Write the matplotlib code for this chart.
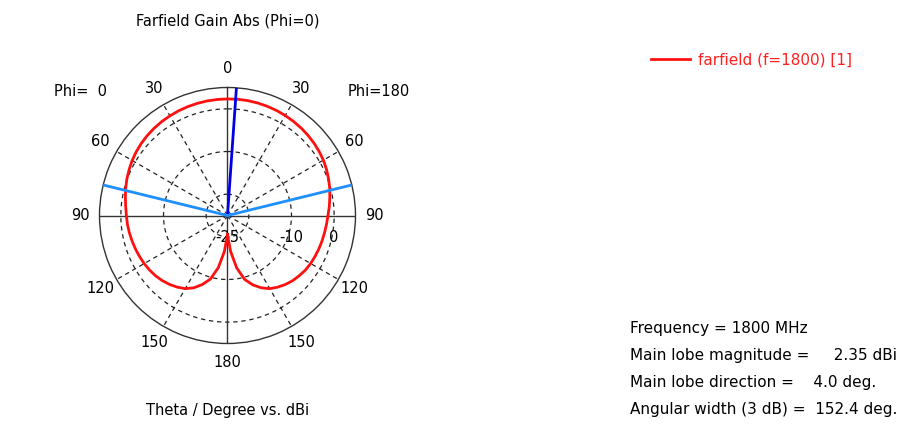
import matplotlib.pyplot as plt
import numpy as np

# farfield cut, theta in degrees (negative = Phi 0 side, positive = Phi 180 side)
theta_deg = [-180, -175, -170, -165, -160, -155, -150, -145, -140, -135, -130, -125,
             -120, -115, -110, -105, -100, -95, -90, -85, -80, -75, -70, -65,
             -60, -55, -50, -45, -40, -35, -30, -25, -20, -15, -10, -5,
             0, 5, 10, 15, 20, 25, 30, 35, 40, 45, 50, 55,
             60, 65, 70, 75, 80, 85, 90, 95, 100, 105, 110, 115,
             120, 125, 130, 135, 140, 145, 150, 155, 160, 165, 170, 175, 180]
gain_dbi = [-20.5, -16.5, -12.6, -9.6, -7.8, -6.3, -5.2, -4.5, -3.9, -3.4, -3.0, -2.7,
            -2.45, -2.25, -2.05, -1.85, -1.65, -1.45, -1.3, -1.05, -0.7, -0.3, 0.1, 0.45,
            0.8, 1.1, 1.35, 1.55, 1.72, 1.87, 1.98, 2.08, 2.16, 2.22, 2.27, 2.3,
            2.32, 2.35, 2.34, 2.3, 2.24, 2.16, 2.06, 1.94, 1.8, 1.63, 1.43, 1.2,
            0.95, 0.6, 0.2, -0.2, -0.65, -1.05, -1.45, -1.7, -1.9, -2.05, -2.2, -2.35,
            -2.5, -2.7, -3.05, -3.4, -3.9, -4.5, -5.2, -6.3, -7.7, -9.5, -12.5, -16.5, -20.5]

freq_mhz = 1800
main_lobe_mag = 2.35
main_lobe_dir = 4.0
beam_width = 152.4
ring_levels = [-20, -10, 0]
ring_labels = [(-25, '-25'), (-10, '-10'), (0, '0')]
angle_labels = [0, 30, 60, 90, 120, 150, 180, -150, -120, -90, -60, -30]

r_min, r_max = -25, 5

fig = plt.figure(figsize=(8.98, 4.30), dpi=100)
plt.rcParams['font.family'] = 'DejaVu Sans'
fs = 10.5

# polar axes centred at (227.5, 215.5) px with 128 px radius
cx, cy, rad = 227.5 / 898, 1 - 215.5 / 430, 128
ax = fig.add_axes([cx - rad / 898, cy - rad / 430, 2 * rad / 898, 2 * rad / 430],
                  projection='polar')
ax.set_theta_zero_location('N')
ax.set_theta_direction(-1)
ax.set_rlim(r_min, r_max)
ax.grid(False)
ax.set_xticks([])
ax.set_yticks([])
ax.spines['polar'].set_color('#333333')
ax.spines['polar'].set_linewidth(1.0)

full = np.linspace(0, 2 * np.pi, 361)
for lev in ring_levels:
    ax.plot(full, np.full_like(full, lev), color='#222222', lw=0.9, ls=(0, (3.5, 3)))
for a in [30, 60, 120, 150, 210, 240, 300, 330]:
    ax.plot([np.radians(a)] * 2, [r_min, r_max], color='#222222', lw=0.9, ls=(0, (3.5, 3)))
for a in [0, 90, 180, 270]:
    ax.plot([np.radians(a)] * 2, [r_min, r_max], color='#333333', lw=1.0)

ax.plot(np.radians(theta_deg), gain_dbi, color='#ff1010', lw=2,
        label='farfield (f=1800) [1]', zorder=5)

# main lobe direction and 3 dB beam edges
ax.plot([np.radians(main_lobe_dir)] * 2, [r_min, r_max], color='#0000e6', lw=2, zorder=6)
for a in [-beam_width / 2, beam_width / 2]:
    ax.plot([np.radians(a)] * 2, [r_min, r_max], color='#1e8fff', lw=2, zorder=6)

r_lab = r_min + 147 / rad * (r_max - r_min)
for a in angle_labels:
    ax.text(np.radians(a), r_lab, str(abs(a)), ha='center', va='center',
            fontsize=fs, clip_on=False)

for lev, txt in ring_labels:
    ax.annotate(txt, (np.pi / 2, lev), xytext=(0, -22), textcoords='offset pixels',
                ha='center', va='center', fontsize=fs)

fig.text(80 / 898, 1 - 92 / 430, 'Phi=  0', ha='center', va='center', fontsize=fs)
fig.text(379 / 898, 1 - 92 / 430, 'Phi=180', ha='center', va='center', fontsize=fs)
fig.text(228 / 898, 1 - 21 / 430, 'Farfield Gain Abs (Phi=0)', ha='center',
         va='center', fontsize=fs)
fig.text(228 / 898, 1 - 410 / 430, 'Theta / Degree vs. dBi', ha='center',
         va='center', fontsize=fs)

fig.legend(loc='center left', bbox_to_anchor=(637 / 898, 1 - 60 / 430), frameon=False,
           fontsize=11, labelcolor='#ff2020', handlelength=2.6, handletextpad=0.5)

info = ['Frequency = %d MHz' % freq_mhz,
        'Main lobe magnitude =     %.2f dBi' % main_lobe_mag,
        'Main lobe direction =    %.1f deg.' % main_lobe_dir,
        'Angular width (3 dB) =  %.1f deg.' % beam_width]
for i, line in enumerate(info):
    fig.text(630 / 898, 1 - (329 + 26.7 * i) / 430, line, ha='left', va='center',
             fontsize=11)

fig.savefig('out.png', dpi=100)
